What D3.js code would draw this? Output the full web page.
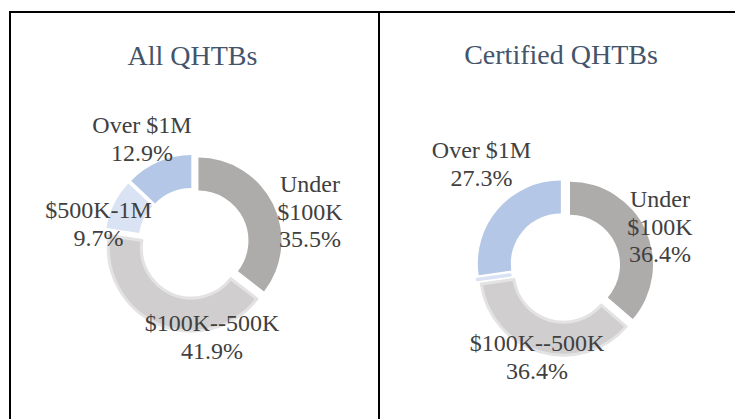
<!DOCTYPE html>
<html><head><meta charset="utf-8">
<script src="https://cdn.jsdelivr.net/npm/d3@7"></script>
<style>body{margin:0;background:#fff} svg{display:block}</style>
</head><body><svg id="c" width="735" height="419"></svg>
<script>
// ---- data ----
const categories = ["Under $100K", "$100K--500K", "$500K-1M", "Over $1M"];
const allQHTBs = [35.5, 41.9, 9.7, 12.9];
const certifiedQHTBs = [36.4, 36.4, 0, 27.3];
const chartTitles = ["All QHTBs", "Certified QHTBs"];

// ---- style / layout ----
const colors = ["#AEABAB", "#D0CECE", "#DAE3F3", "#B4C7E7"];
const strokes = [null, "#E4E3E3", null, null];
const outerR = 83, innerR = 50, explode = 5.5;
const labelFont = 24, lineH = 27.6;
// label anchor offsets (px) relative to each donut centre; split = wrap name at space
const panels = [
  { title: chartTitles[0], values: allQHTBs, x0: 10, x1: 379, cx: 193.5, cy: 243, titleX: 192.5, titleY: 64.5,
    labels: [ {dx: 116.5, dy: -51, split: true}, {dx: 18.5, dy: 88}, {dx: -95, dy: -25}, {dx: -51.5, dy: -110} ] },
  { title: chartTitles[1], values: certifiedQHTBs, x0: 379, x1: 760, cx: 565, cy: 267, titleX: 561, titleY: 63.5,
    labels: [ {dx: 95, dy: -60, split: true}, {dx: -28, dy: 84}, null, {dx: -83.5, dy: -109} ] }
];

const svg = d3.select("#c");
const color = d3.scaleOrdinal().domain(categories).range(colors);
const pie = d3.pie().sort(null).value(d => d.value).startAngle(0).endAngle(2 * Math.PI);
const arc = d3.arc().innerRadius(innerR).outerRadius(outerR);
const pct = v => d3.format(".1f")(v) + "%";

// frame
svg.append("path")
  .attr("d", "M10,419 L10,12 L740,12 M379,12 L379,419")
  .attr("fill", "none").attr("stroke", "#000").attr("stroke-width", 2);

panels.forEach(p => {
  const data = categories.map((c, i) => ({ cat: c, value: p.values[i], idx: i }));
  const arcs = pie(data);

  svg.append("text")
    .attr("x", p.titleX).attr("y", p.titleY)
    .attr("text-anchor", "middle")
    .attr("font-family", "'Liberation Serif', 'Times New Roman', serif")
    .attr("font-size", 28).attr("fill", "#44546A")
    .text(p.title);

  const g = svg.append("g").attr("transform", `translate(${p.cx},${p.cy})`);

  g.selectAll("path.slice").data(arcs).join("path")
    .attr("class", "slice")
    .attr("transform", d => {
      const a = (d.startAngle + d.endAngle) / 2;
      return `translate(${explode * Math.sin(a)},${-explode * Math.cos(a)})`;
    })
    .attr("d", arc)
    .attr("fill", d => color(d.data.cat))
    .attr("stroke", d => d.value === 0 ? color(d.data.cat) : (strokes[d.data.idx] || "none"))
    .attr("stroke-width", d => d.value === 0 ? 3.5 : 3)
    .attr("stroke-linejoin", "round");

  arcs.forEach((d, i) => {
    const L = p.labels[i];
    if (!L || d.value === 0) return;
    const lines = (L.split ? d.data.cat.split(" ") : [d.data.cat]).concat([pct(d.value)]);
    const t = g.append("text")
      .attr("text-anchor", "middle")
      .attr("font-family", "'Liberation Serif', 'Times New Roman', serif")
      .attr("font-size", labelFont).attr("fill", "#404040");
    lines.forEach((ln, k) => {
      t.append("tspan").attr("x", L.dx).attr("y", L.dy + k * lineH).text(ln);
    });
  });
});
</script>
</body></html>
